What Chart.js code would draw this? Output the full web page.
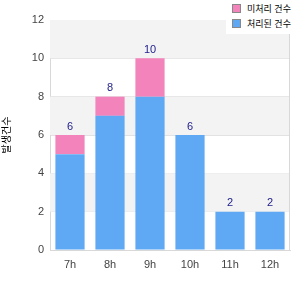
<!DOCTYPE html>
<html lang="ko">
<head>
<meta charset="UTF-8">
<title>Chart</title>
<script src="https://cdn.jsdelivr.net/npm/chart.js"></script>
<style>
    body { margin: 0; background: #fff; }
    #wrap { position: relative; width: 300px; height: 300px; }
    #legend {
        position: absolute; left: 226px; top: 0; width: 66px; height: 34px;
        background: #fff; font: 9px "Noto Sans CJK KR", sans-serif; color: #000;
    }
    #legend div { position: absolute; left: 6px; height: 14px; line-height: 14px; white-space: nowrap; }
    #legend span.box {
        display: inline-block; width: 7px; height: 7px; border: 1px solid #888;
        vertical-align: middle; margin-right: 6px; margin-top: -2px;
    }
</style>
</head>
<body>
<div id="wrap">
    <canvas id="c" width="300" height="300"></canvas>
    <div id="legend">
        <div style="top:2px"><span class="box" style="background:#f383bb"></span>미처리 건수</div>
        <div style="top:17px"><span class="box" style="background:#5fa8f4"></span>처리된 건수</div>
    </div>
</div>
<script>
    const labels = ["7h", "8h", "9h", "10h", "11h", "12h"];
    const doneValues = [5, 7, 8, 6, 2, 2];
    const pendingValues = [1, 1, 2, 0, 0, 0];
    const yTicks = [0, 2, 4, 6, 8, 10, 12];

    // alternating background bands + right border
    const bandsPlugin = {
        id: "bands",
        beforeDatasetsDraw(chart) {
            const { ctx, chartArea, scales } = chart;
            ctx.save();
            for (let i = 0; i < yTicks.length - 1; i++) {
                if (i % 2 === 1) {
                    const y1 = scales.y.getPixelForValue(yTicks[i + 1]);
                    const y0 = scales.y.getPixelForValue(yTicks[i]);
                    ctx.fillStyle = "#f3f3f3";
                    ctx.fillRect(chartArea.left, y1, chartArea.right - chartArea.left, y0 - y1);
                }
            }
            ctx.strokeStyle = "#d8d8d8";
            ctx.lineWidth = 1;
            ctx.beginPath();
            ctx.moveTo(chartArea.right - 0.5, chartArea.top);
            ctx.lineTo(chartArea.right - 0.5, chartArea.bottom);
            ctx.stroke();
            ctx.restore();
        }
    };

    // total labels above bars
    const totalsPlugin = {
        id: "totals",
        afterDatasetsDraw(chart) {
            const { ctx, scales } = chart;
            ctx.save();
            ctx.font = "11px 'Liberation Sans', Arial, sans-serif";
            ctx.fillStyle = "#1c1c8a";
            ctx.textAlign = "center";
            ctx.textBaseline = "bottom";
            labels.forEach((l, i) => {
                const total = doneValues[i] + pendingValues[i];
                ctx.fillText(String(total), scales.x.getPixelForValue(i), scales.y.getPixelForValue(total) - 3);
            });
            ctx.restore();
        }
    };

    new Chart(document.getElementById("c").getContext("2d"), {
        type: "bar",
        data: {
            labels: labels,
            datasets: [
                { label: "처리된 건수", data: doneValues, backgroundColor: "#5fa8f4", barPercentage: 0.73, categoryPercentage: 1 },
                { label: "미처리 건수", data: pendingValues, backgroundColor: "#f383bb", barPercentage: 0.73, categoryPercentage: 1 }
            ]
        },
        options: {
            responsive: false,
            animation: false,
            layout: { padding: { top: 20, right: 10, left: 0, bottom: 0 } },
            plugins: { legend: { display: false }, tooltip: { enabled: false } },
            scales: {
                x: {
                    stacked: true,
                    grid: { display: false, drawTicks: false },
                    border: { color: "#d8d8d8" },
                    ticks: { color: "#444", font: { size: 11, family: "'Liberation Sans', Arial" }, padding: 8 },
                    afterFit(s) { s.height = 50; }
                },
                y: {
                    stacked: true,
                    min: 0, max: 12,
                    ticks: { stepSize: 2, color: "#444", font: { size: 11, family: "'Liberation Sans', Arial" }, padding: 6 },
                    grid: { color: "#e2e2e2", drawTicks: false },
                    border: { color: "#d8d8d8" },
                    title: { display: true, text: "발생건수", color: "#000", font: { size: 10, family: "'Noto Sans CJK KR'" }, padding: 0 },
                    afterFit(s) { s.width = 50; }
                }
            }
        },
        plugins: [bandsPlugin, totalsPlugin]
    });
</script>
</body>
</html>
